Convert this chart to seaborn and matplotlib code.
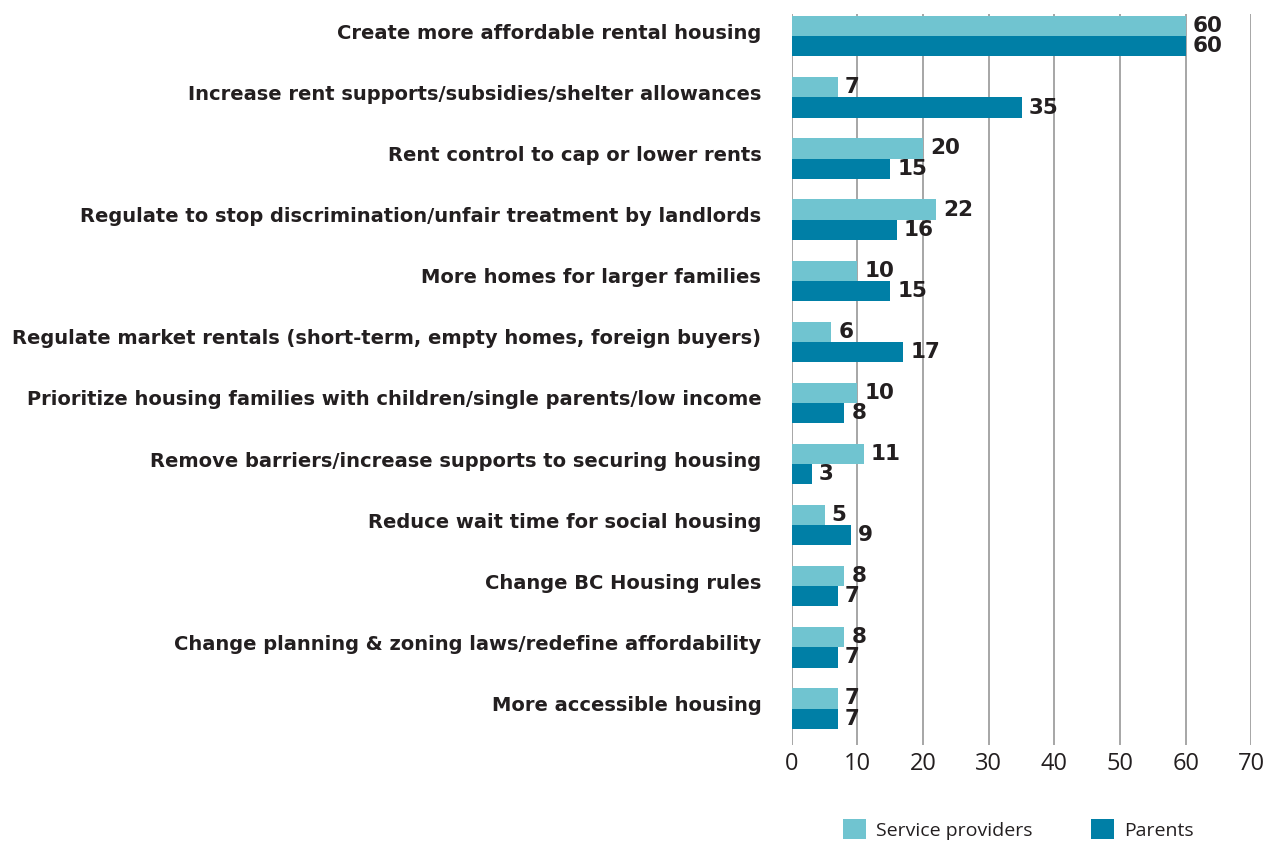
import matplotlib
matplotlib.use("Agg")
import matplotlib.pyplot as plt
import matplotlib.transforms as mtransforms
import seaborn as sns
import pandas as pd
from matplotlib.patches import Patch

categories = [
    "Create more affordable rental housing",
    "Increase rent supports/subsidies/shelter allowances",
    "Rent control to cap or lower rents",
    "Regulate to stop discrimination/unfair treatment by landlords",
    "More homes for larger families",
    "Regulate market rentals (short-term, empty homes, foreign buyers)",
    "Prioritize housing families with children/single parents/low income",
    "Remove barriers/increase supports to securing housing",
    "Reduce wait time for social housing",
    "Change BC Housing rules",
    "Change planning & zoning laws/redefine affordability",
    "More accessible housing",
]
service_providers = [60, 7, 20, 22, 10, 6, 10, 11, 5, 8, 8, 7]
parents = [60, 35, 15, 16, 15, 17, 8, 3, 9, 7, 7, 7]
groups = ["Service providers", "Parents"]
colors = ["#70C4D0", "#007FA6"]
x_ticks = [0, 10, 20, 30, 40, 50, 60, 70]

df = pd.DataFrame({
    "category": categories * 2,
    "value": service_providers + parents,
    "group": [groups[0]] * len(categories) + [groups[1]] * len(categories),
})

sns.set_style("white")
plt.rcParams["font.family"] = ["DejaVu Sans"]

text_color = "#231F20"

fig = plt.figure(figsize=(12.73, 8.42), dpi=100)
ax = fig.add_axes([0.622, 0.115, 0.361, 0.868])

sns.barplot(data=df, y="category", x="value", hue="group", order=categories,
            hue_order=groups, palette=colors, orient="h", width=0.66,
            saturation=1, legend=False, linewidth=0, ax=ax)

for container in ax.containers:
    ax.bar_label(container, labels=[f"{v:g}" for v in container.datavalues],
                 padding=5, fontsize=15.5, fontweight="bold", color=text_color)

ax.set_xlim(0, 70)
ax.set_ylim(11.6, -0.36)
ax.set_xticks(x_ticks)
ax.set_xticklabels([str(t) for t in x_ticks], fontsize=17, color=text_color,
                   family="Open Sans")
ax.tick_params(axis="x", length=0, pad=5)
ax.tick_params(axis="y", length=0, pad=22)
shift = mtransforms.ScaledTranslation(0, 5 / 100, fig.dpi_scale_trans)
for lbl in ax.get_yticklabels():
    lbl.set_fontsize(14.0)
    lbl.set_fontweight("bold")
    lbl.set_color(text_color)
    lbl.set_transform(lbl.get_transform() + shift)
ax.set_xlabel("")
ax.set_ylabel("")
ax.xaxis.grid(True, color="#8E8E8E", linewidth=1.1)
ax.set_axisbelow(True)
for s in ax.spines.values():
    s.set_visible(False)

handles = [Patch(facecolor=c, edgecolor="none") for c in colors]
fig.legend(handles, groups, loc="center", bbox_to_anchor=(0.80, 0.015),
           ncol=2, frameon=False, prop={"family": "Open Sans", "size": 14},
           handlelength=1.2, handleheight=1.2, columnspacing=3.0,
           handletextpad=0.5, labelcolor=text_color)

fig.savefig("out.png", dpi=100)
